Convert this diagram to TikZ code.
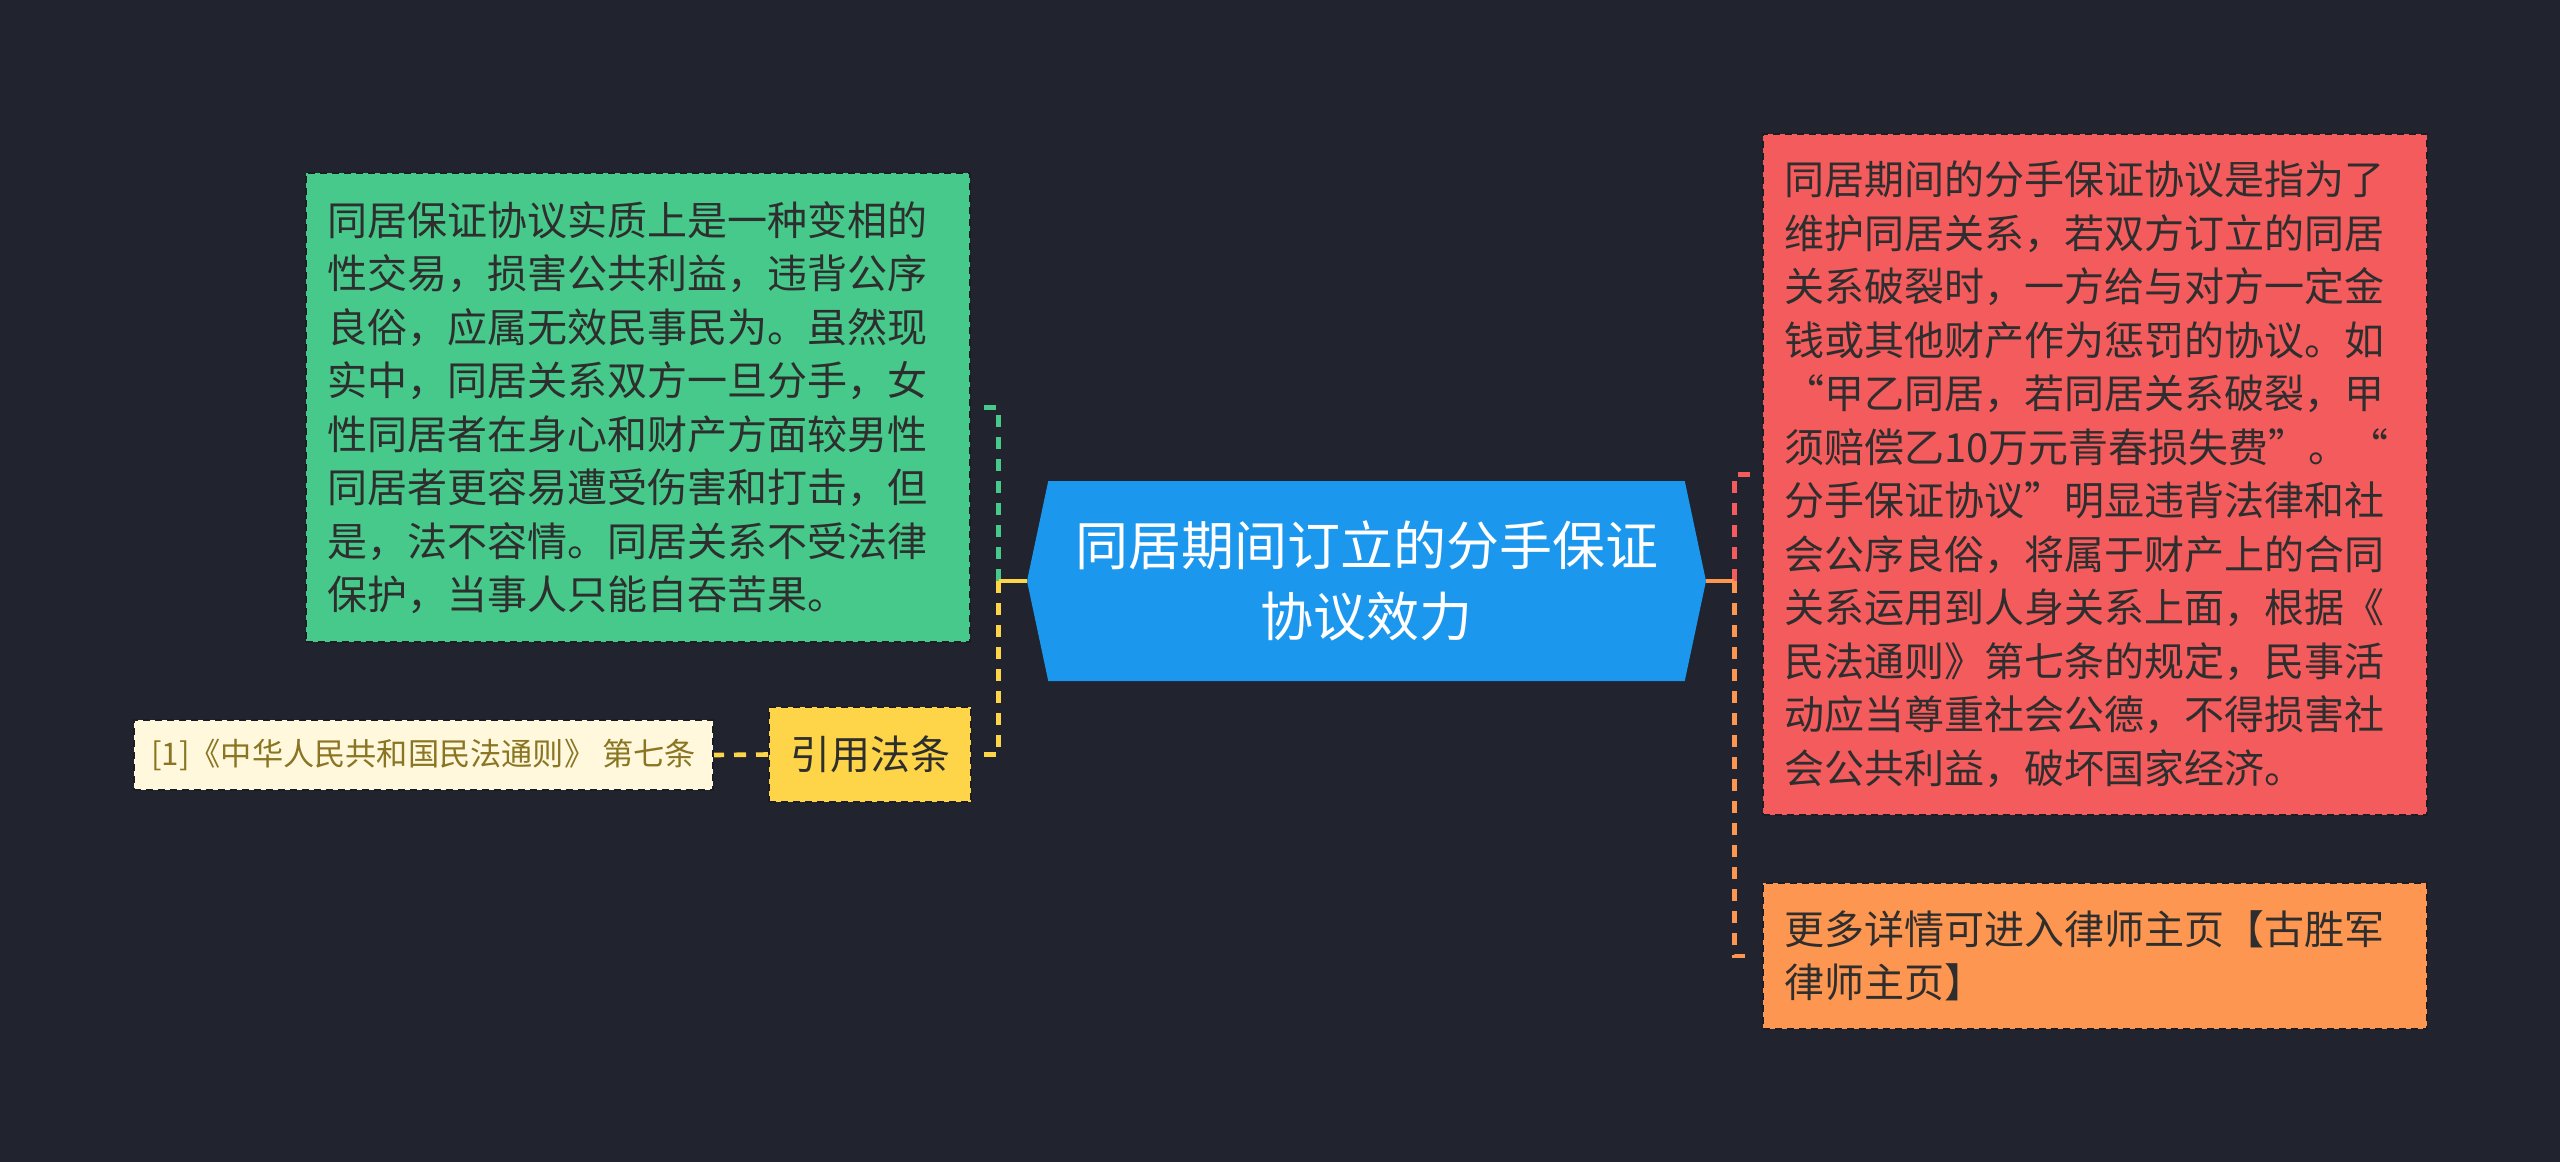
\documentclass[tikz,border=0pt]{standalone}
\usepackage{fontspec}
\setmainfont{Noto Sans CJK SC}
\usepackage{xcolor}
\usepackage{tikz}
\usetikzlibrary{shapes.symbols,positioning}

\definecolor{bgnavy}{HTML}{21232F}
\definecolor{topicblue}{HTML}{1B97EE}
\definecolor{notegreen}{HTML}{46C98B}
\definecolor{notered}{HTML}{F45B5C}
\definecolor{noteorange}{HTML}{FD9650}
\definecolor{lawyellow}{HTML}{FED548}
\definecolor{refcream}{HTML}{FFF8DD}
\definecolor{refolive}{HTML}{8A7522}
\definecolor{inkdark}{HTML}{2E2E2E}
\definecolor{boxedge}{HTML}{1C1D24}

\begin{document}
\begin{tikzpicture}[x=0.5pt,y=-0.5pt,
    card/.style={rectangle, fill=#1, draw=boxedge, line width=1pt,
        dash pattern=on 3.5pt off 2.5pt, text=inkdark, inner xsep=11pt,
        inner ysep=0pt, align=left, font=\fontsize{20}{26.75}\selectfont},
    link/.style={draw=#1, line width=2.3pt, dash pattern=on 6pt off 5pt},
    stem/.style={draw=#1, line width=2.3pt}]

\fill[bgnavy] (0,0) rectangle (2560,1162);
\useasboundingbox (0,0) rectangle (2560,1162);

\node[signal, signal to=west and east, signal pointer angle=156,
    fill=topicblue, text=white, minimum width=339.5pt, minimum height=100pt,
    inner sep=0pt, align=center, font=\fontsize{26.5}{35.5}\selectfont]
    (topic) at (1366.5,581) {同居期间订立的分手保证\\协议效力};

\node[card=notegreen, text width=310pt, minimum height=234.5pt] (reason) at (637.5,407.5) {%
同居保证协议实质上是一种变相的\\
性交易，损害公共利益，违背公序\\
良俗，应属无效民事民为。虽然现\\
实中，同居关系双方一旦分手，女\\
性同居者在身心和财产方面较男性\\
同居者更容易遭受伤害和打击，但\\
是，法不容情。同居关系不受法律\\
保护，当事人只能自吞苦果。};

\node[card=lawyellow, minimum width=101pt, minimum height=47.5pt,
    inner xsep=0pt, align=center] (law) at (870,754.5) {引用法条};

\node[card=refcream, text=refolive, minimum width=289.5pt, minimum height=35pt,
    inner xsep=0pt, align=center, font=\fontsize{15.6}{18}\selectfont]
    (cite) at (423.5,755) {[1]《中华人民共和国民法通则》 第七条};

\node[card=notered, text width=310pt, minimum height=340.5pt] (meaning) at (2094.5,474.5) {%
同居期间的分手保证协议是指为了\\
维护同居关系，若双方订立的同居\\
关系破裂时，一方给与对方一定金\\
钱或其他财产作为惩罚的协议。如\\
“甲乙同居，若同居关系破裂，甲\\
须赔偿乙10万元青春损失费”。“\\
分手保证协议”明显违背法律和社\\
会公序良俗，将属于财产上的合同\\
关系运用到人身关系上面，根据《\\
民法通则》第七条的规定，民事活\\
动应当尊重社会公德，不得损害社\\
会公共利益，破坏国家经济。};

\node[card=noteorange, text width=310pt, minimum height=73pt] (lawyer) at (2094.5,956) {%
更多详情可进入律师主页【古胜军\\
律师主页】};

% elbow connectors
\coordinate (lfork) at ([xshift=-14pt]topic.west);
\coordinate (rfork) at ([xshift=14pt]topic.east);
\foreach \leaf/\col in {reason/notegreen, law/lawyellow}
    \draw[link=\col] (lfork) |- ([xshift=6pt]\leaf.east);
\foreach \leaf/\col in {meaning/notered, lawyer/noteorange}
    \draw[link=\col] (rfork) |- ([xshift=-6pt]\leaf.west);
\draw[stem=lawyellow] (topic.west) -- (lfork);
\draw[stem=noteorange] (topic.east) -- (rfork);
\draw[link=lawyellow] (law.west) -- (cite.east);
\end{tikzpicture}
\end{document}
